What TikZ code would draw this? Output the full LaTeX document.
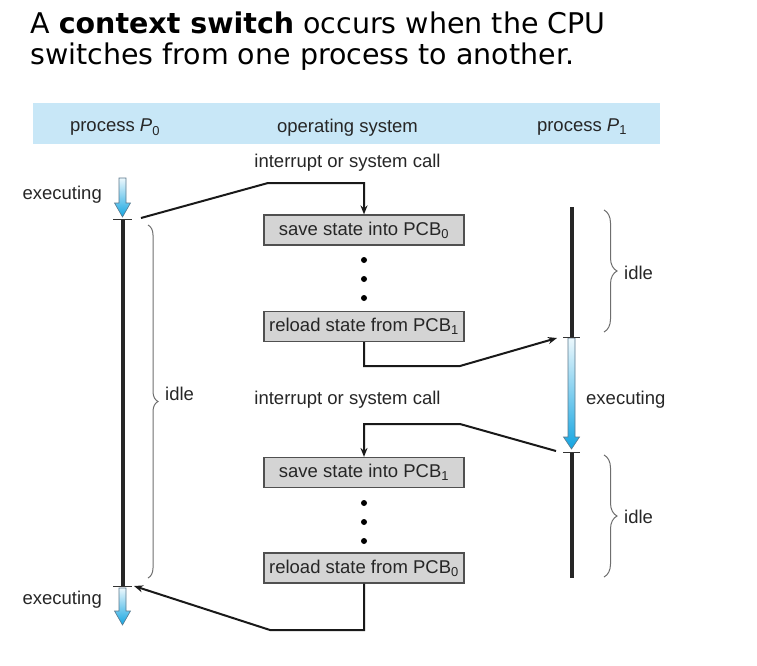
\documentclass[tikz,border=0pt]{standalone}
\usepackage{fontspec}
\setmainfont{Liberation Sans}
\newfontfamily\titlefont{DejaVu Sans}
\usetikzlibrary{arrows.meta,decorations.pathreplacing}

\definecolor{band}{RGB}{200,231,247}
\definecolor{boxfill}{RGB}{212,212,212}
\definecolor{boxline}{RGB}{80,80,80}
\definecolor{arrowblue}{RGB}{20,165,225}
\definecolor{arrowedge}{RGB}{90,120,140}
\definecolor{bracegray}{RGB}{110,110,110}

\newcommand\bluearrow[4]{%
  \shadedraw[top color=arrowblue!8, bottom color=arrowblue, draw=arrowedge, line width=0.6pt]
    (#1-3.5,#2) -- (#1+3.5,#2) -- (#1+3.5,#3) -- (#1+8,#3) -- (#1,#4)
    -- (#1-8,#3) -- (#1-3.5,#3) -- cycle;}

\begin{document}
\begin{tikzpicture}[x=1pt,y=-1pt,
  lbl/.style={font=\fontsize{18.5}{20}\selectfont, inner sep=0pt, text=black!85, yshift=-2.5pt},
  pcbbox/.style={draw=boxline, fill=boxfill, line width=1.2pt, minimum width=200pt,
    minimum height=30pt, inner sep=0pt, text=black!85, font=\fontsize{18.5}{20}\selectfont},
  conn/.style={line width=2pt, black!90, -{Stealth[length=9pt,width=7pt]}},
  procline/.style={line width=4pt, black!85},
  tickmark/.style={line width=1pt, black!80},
  brc/.style={decorate, decoration={brace, amplitude=#1}, draw=bracegray, line width=1pt},
  dotmark/.style={circle, fill=black, inner sep=0pt, minimum size=6pt},
]
\useasboundingbox (0,0) rectangle (757,665);

% title
\node[anchor=base west, inner sep=0pt, font=\titlefont\fontsize{28.5}{34}\selectfont] (t1) at (30,33)
  {A \textbf{context switch} occurs when the CPU};
\node[anchor=base west, inner sep=0pt, font=\titlefont\fontsize{28.5}{34}\selectfont] (t2) at (30,64)
  {switches from one process to another.};

% header band
\fill[band] (33,103) rectangle (660,144);
\node[lbl] (h0) at (115,125) {process \textit{P}\textsubscript{0}};
\node[lbl] (h1) at (347.5,125) {operating system};
\node[lbl] (h2) at (582,125) {process \textit{P}\textsubscript{1}};

% process P0
\bluearrow{122.5}{178}{203}{217}
\draw[procline] (122.5,219) -- (122.5,586);
\draw[tickmark] (113,219) -- (132,219);
\draw[tickmark] (113,586) -- (132,586);
\bluearrow{122.5}{588}{611}{625}
\node[lbl, anchor=east] (e0a) at (102,192) {executing};
\node[lbl, anchor=east] (e0b) at (102,597) {executing};
\draw[brc=10pt] (148,225) -- (148,578);
\node[lbl, anchor=west] (i0) at (165,391) {idle};

% process P1
\draw[procline] (571.5,207) -- (571.5,337);
\bluearrow{571.5}{338}{437}{449}
\draw[procline] (571.5,452) -- (571.5,578);
\draw[tickmark] (563,337) -- (580,337);
\draw[tickmark] (563,452) -- (580,452);
\node[lbl, anchor=west] (e1) at (586,397) {executing};
\draw[brc=13pt] (604,210) -- (604,332);
\node[lbl, anchor=west] (i1a) at (624,270) {idle};
\draw[brc=13pt] (604,455) -- (604,577);
\node[lbl, anchor=west] (i1b) at (624,514) {idle};

% operating system
\node[lbl] (int1) at (347.5,160) {interrupt or system call};
\node[lbl] (int2) at (347.5,397) {interrupt or system call};
\node[pcbbox] (b1) at (364,230) {save state into PCB\textsubscript{0}};
\node[pcbbox] (b2) at (364,326.5) {reload state from PCB\textsubscript{1}};
\node[pcbbox] (b3) at (364,472.5) {save state into PCB\textsubscript{1}};
\node[pcbbox] (b4) at (364,568) {reload state from PCB\textsubscript{0}};
\foreach \y in {260,279,298,503,522,541} \node[dotmark] at (364,\y) {};

% connector end points on the process lines
\coordinate (s1) at (141,218);
\coordinate (s2) at (557,338);
\coordinate (s3) at (556,451);
\coordinate (s4) at (134,586);

\draw[conn] (s1) -- (268,183) -| (b1.north);
\draw[conn] (b2.south) -- (364,366) -- (460,366) -- (s2);
\draw[conn] (s3) -- (460,424) -| (b3.north);
\draw[conn] (b4.south) |- (270,630) -- (s4);
\end{tikzpicture}
\end{document}
